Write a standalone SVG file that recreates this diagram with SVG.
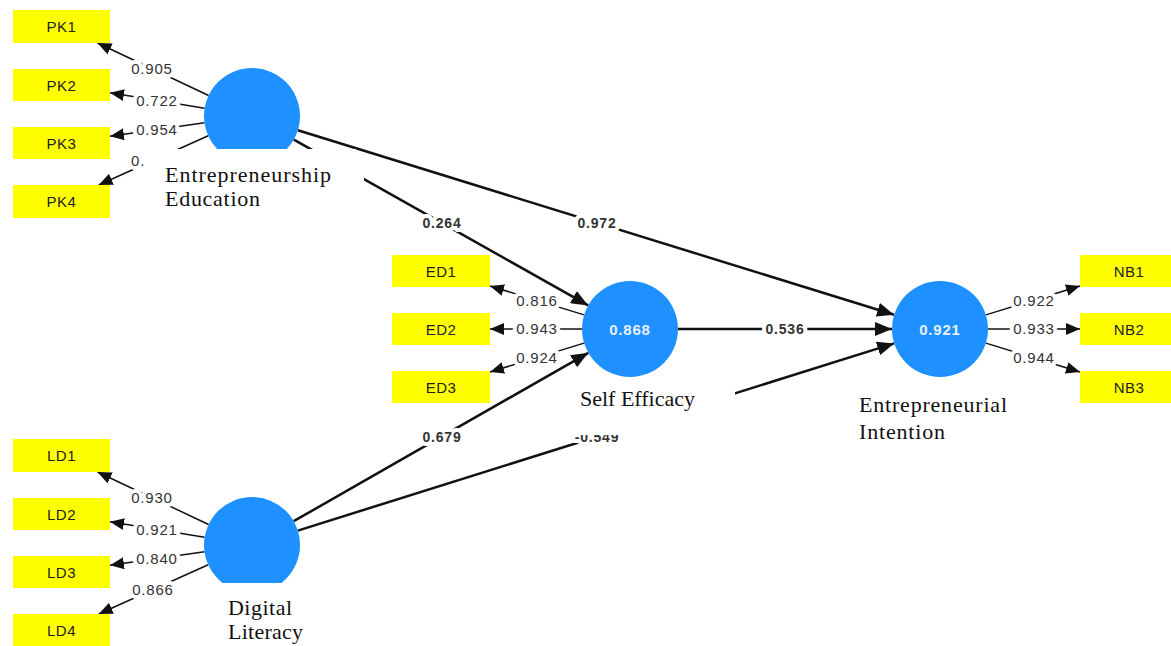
<svg xmlns="http://www.w3.org/2000/svg" width="1171" height="646" viewBox="0 0 1171 646">
<defs>
<style>
.ind{fill:#ffff00}
.it{font-family:"Liberation Sans",Arial,sans-serif;font-size:15px;fill:#222;text-anchor:middle;letter-spacing:0.5px}
.lv{fill:#1e90ff}
.lvt{font-family:"Liberation Sans",Arial,sans-serif;font-size:15px;font-weight:bold;fill:#e6f0ff;text-anchor:middle;letter-spacing:0.8px}
.ml{stroke:#111;stroke-width:1.5;fill:none;marker-end:url(#am)}
.sl{stroke:#111;stroke-width:2.5;fill:none;marker-end:url(#as)}
.mt{font-family:"Liberation Sans",Arial,sans-serif;font-size:15px;fill:#333;text-anchor:middle;letter-spacing:0.8px;paint-order:stroke;stroke:#fff;stroke-width:8px;stroke-linejoin:round}
.st{font-family:"Liberation Sans",Arial,sans-serif;font-size:14px;font-weight:bold;fill:#333;text-anchor:middle;letter-spacing:0.8px;paint-order:stroke;stroke:#fff;stroke-width:8px;stroke-linejoin:round}
.cap{font-family:"Liberation Serif","Times New Roman",serif;font-size:22px;fill:#111}
.cover{fill:#fff}
</style>
<marker id="am" markerUnits="userSpaceOnUse" markerWidth="16" markerHeight="12" refX="14" refY="6" orient="auto"><path d="M0,0 L14,6 L0,12 z" fill="#111"/></marker>
<marker id="as" markerUnits="userSpaceOnUse" markerWidth="18" markerHeight="14" refX="17" refY="7" orient="auto"><path d="M0,0 L17,7 L0,14 z" fill="#111"/></marker>
</defs>
<rect width="1171" height="646" fill="#fff"/>

<g id="connectors">
<line class="ml" x1="208.6" y1="95.5" x2="97.5" y2="43"/>
<line class="ml" x1="204.6" y1="108.3" x2="110" y2="92.8"/>
<line class="ml" x1="204.5" y1="122.8" x2="110" y2="136.2"/>
<line class="ml" x1="208.2" y1="135.7" x2="98.7" y2="185"/>
<text class="mt" x="152" y="74">0.905</text>
<text class="mt" x="157" y="105.5">0.722</text>
<text class="mt" x="157" y="134.5">0.954</text>
<text class="mt" x="131" y="166" style="text-anchor:start">0.</text>

<line class="ml" x1="208.6" y1="524.5" x2="97.5" y2="472"/>
<line class="ml" x1="204.6" y1="537.3" x2="110" y2="521.8"/>
<line class="ml" x1="204.5" y1="551.8" x2="110" y2="565.2"/>
<line class="ml" x1="208.2" y1="564.7" x2="98.7" y2="614"/>
<text class="mt" x="152" y="503">0.930</text>
<text class="mt" x="157" y="534.5">0.921</text>
<text class="mt" x="157" y="563.5">0.840</text>
<text class="mt" x="153" y="595">0.866</text>

<line class="ml" x1="584.1" y1="314.9" x2="490" y2="286"/>
<line class="ml" x1="582" y1="329" x2="490" y2="329"/>
<line class="ml" x1="584.1" y1="343.1" x2="490" y2="372"/>
<text class="mt" x="537" y="305.5">0.816</text>
<text class="mt" x="537" y="334">0.943</text>
<text class="mt" x="537" y="362.5">0.924</text>

<line class="ml" x1="985.9" y1="314.9" x2="1080" y2="286"/>
<line class="ml" x1="988" y1="329" x2="1080" y2="329"/>
<line class="ml" x1="985.9" y1="343.1" x2="1080" y2="372"/>
<text class="mt" x="1034" y="305.5">0.922</text>
<text class="mt" x="1034" y="334">0.933</text>
<text class="mt" x="1034" y="362.5">0.944</text>

<line class="sl" x1="293.8" y1="139.6" x2="588.2" y2="305.4"/>
<line class="sl" x1="297.9" y1="130.2" x2="894.1" y2="314.8"/>
<line class="sl" x1="678" y1="329" x2="892" y2="329"/>
<line class="sl" x1="293.7" y1="521.2" x2="588.3" y2="352.8"/>
<line class="sl" x1="297.8" y1="530.6" x2="894.2" y2="343.4"/>
<text class="st" x="442" y="228">0.264</text>
<text class="st" x="597" y="228">0.972</text>
<text class="st" x="785" y="334">0.536</text>
<text class="st" x="442" y="441.5">0.679</text>
<text class="st" x="597" y="442">-0.549</text>
</g>

<g id="PK1"><rect class="ind" x="13" y="10" width="97" height="33"/><text class="it" x="61.5" y="32">PK1</text></g>
<g id="PK2"><rect class="ind" x="13" y="69" width="97" height="32"/><text class="it" x="61.5" y="90.5">PK2</text></g>
<g id="PK3"><rect class="ind" x="13" y="127" width="97" height="32"/><text class="it" x="61.5" y="148.5">PK3</text></g>
<g id="PK4"><rect class="ind" x="13" y="185" width="97" height="33"/><text class="it" x="61.5" y="207">PK4</text></g>

<g id="LD1"><rect class="ind" x="13" y="439" width="97" height="33"/><text class="it" x="61.5" y="461">LD1</text></g>
<g id="LD2"><rect class="ind" x="13" y="498" width="97" height="32"/><text class="it" x="61.5" y="519.5">LD2</text></g>
<g id="LD3"><rect class="ind" x="13" y="556" width="97" height="32"/><text class="it" x="61.5" y="577.5">LD3</text></g>
<g id="LD4"><rect class="ind" x="13" y="614" width="97" height="33"/><text class="it" x="61.5" y="636">LD4</text></g>

<g id="ED1"><rect class="ind" x="392" y="255" width="98" height="32"/><text class="it" x="441" y="276.5">ED1</text></g>
<g id="ED2"><rect class="ind" x="392" y="313" width="98" height="32"/><text class="it" x="441" y="334.5">ED2</text></g>
<g id="ED3"><rect class="ind" x="392" y="371" width="98" height="32"/><text class="it" x="441" y="392.5">ED3</text></g>

<g id="NB1"><rect class="ind" x="1080" y="255" width="97" height="32"/><text class="it" x="1129" y="276.5">NB1</text></g>
<g id="NB2"><rect class="ind" x="1080" y="313" width="97" height="32"/><text class="it" x="1129" y="334.5">NB2</text></g>
<g id="NB3"><rect class="ind" x="1080" y="371" width="97" height="32"/><text class="it" x="1129" y="392.5">NB3</text></g>

<g id="EntrepreneurshipEducation">
<circle class="lv" cx="252" cy="116" r="48"/>
<path class="cover" d="M146,149 H356 V160 H364 V213 H146 Z"/>
<text class="cap" x="165" y="182" textLength="166" lengthAdjust="spacing">Entrepreneurship</text>
<text class="cap" x="165" y="206" textLength="95" lengthAdjust="spacing">Education</text>
</g>

<g id="SelfEfficacy">
<circle class="lv" cx="630" cy="329" r="48"/>
<text class="lvt" x="630" y="334.5">0.868</text>
<rect class="cover" x="568" y="380" width="167" height="55"/>
<text class="cap" x="580" y="406" textLength="115" lengthAdjust="spacing">Self Efficacy</text>
</g>

<g id="EntrepreneurialIntention">
<circle class="lv" cx="940" cy="329" r="48"/>
<text class="lvt" x="940" y="334.5">0.921</text>
<text class="cap" x="859" y="412" textLength="148" lengthAdjust="spacing">Entrepreneurial</text>
<text class="cap" x="859" y="439" textLength="86" lengthAdjust="spacing">Intention</text>
</g>

<g id="DigitalLiteracy">
<circle class="lv" cx="252" cy="545" r="48"/>
<rect class="cover" x="195" y="583" width="135" height="63"/>
<text class="cap" x="228" y="615" textLength="64" lengthAdjust="spacing">Digital</text>
<text class="cap" x="228" y="639" textLength="75" lengthAdjust="spacing">Literacy</text>
</g>
</svg>
